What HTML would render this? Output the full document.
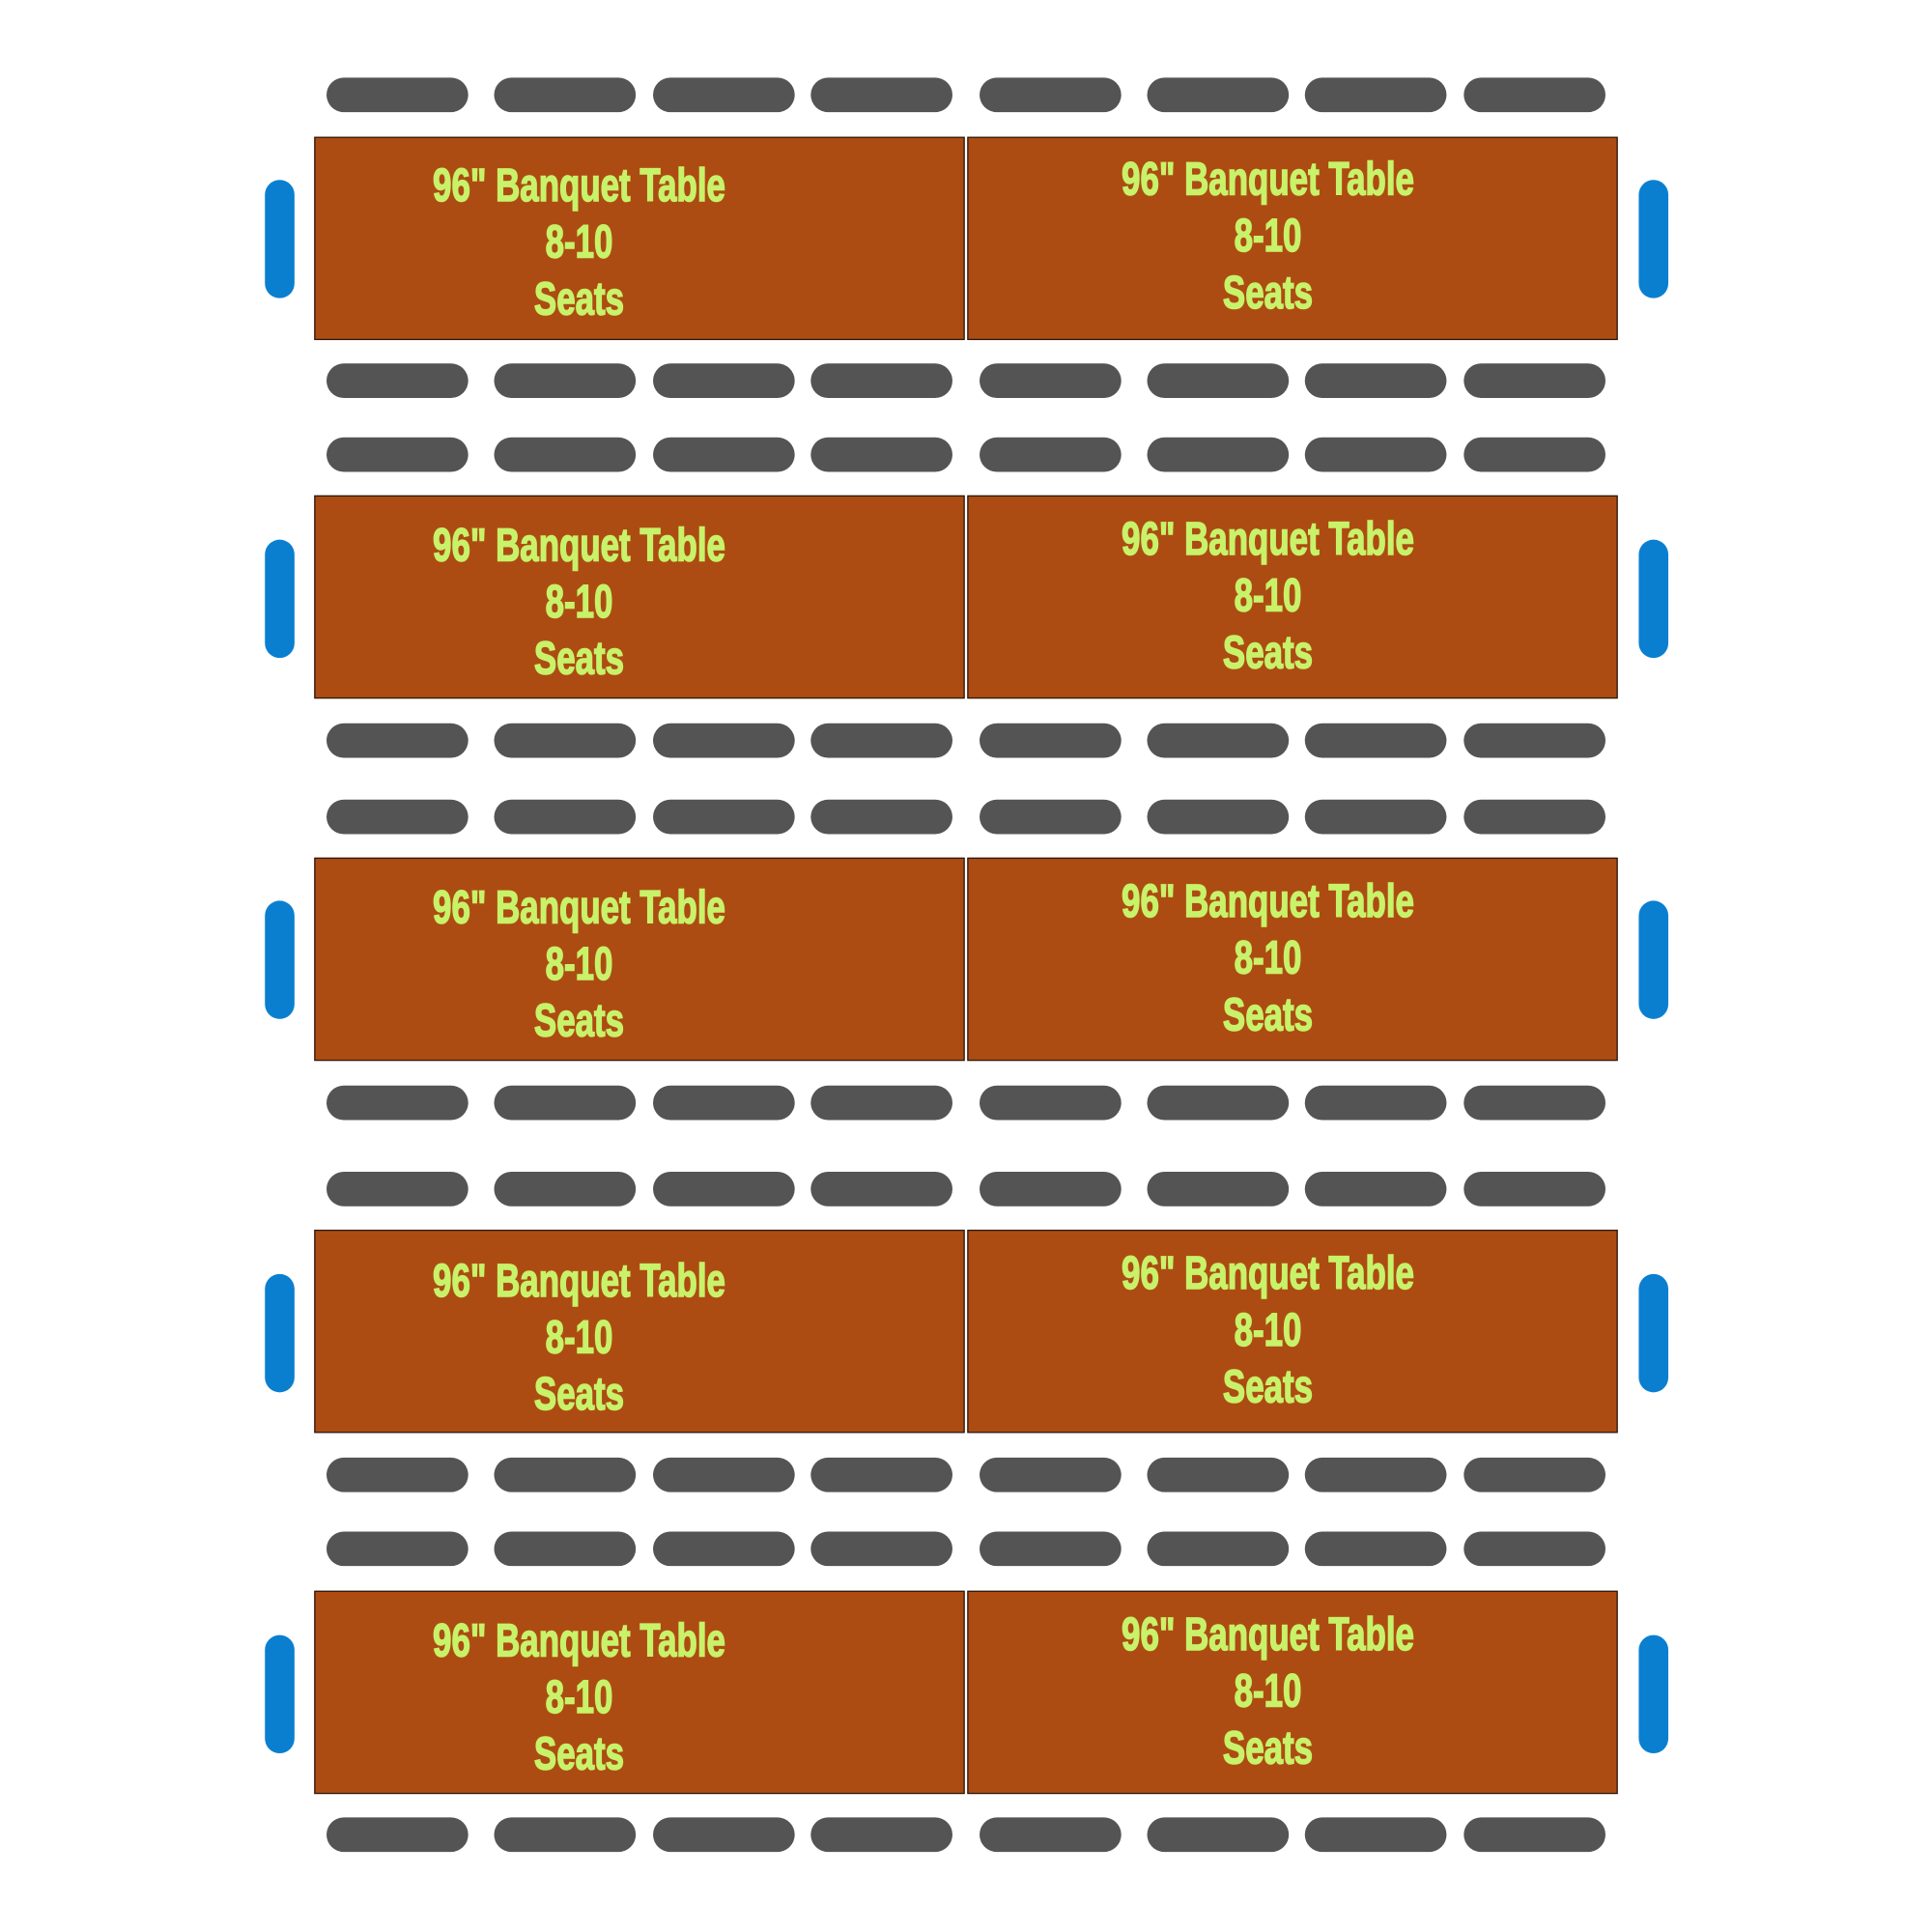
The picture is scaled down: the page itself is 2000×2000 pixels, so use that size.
<!DOCTYPE html>
<html><head><meta charset="utf-8"><style>
html,body{margin:0;padding:0;background:#fff;width:2000px;height:2000px;overflow:hidden}
#w{position:absolute;left:0;top:0;width:1568px;height:1568px;transform:scale(1.27551);transform-origin:0 0}
.t{position:absolute;width:528px;height:165px;background:#ad4c12;border:1.5px solid #2a1a10;box-sizing:border-box}
.c{position:absolute;width:115px;height:28px;border-radius:14px;background:#545454}
.b{position:absolute;width:24px;height:96px;border-radius:12px;background:#0a7fd0}
.x{position:absolute;width:400px;text-align:center;font:bold 38px/46px "Liberation Sans",sans-serif;color:#c8f26a;-webkit-text-stroke:1.2px #c8f26a;transform:scaleX(0.72);transform-origin:50% 0}
</style></head><body><div id="w">
<div class="t" style="left:255px;top:111px"></div><div class="t" style="left:785px;top:111px"></div>
<div class="b" style="left:215px;top:146px"></div><div class="b" style="left:1330px;top:146px"></div>
<div class="x" style="left:270px;top:128px">96" Banquet Table<br>8-10<br>Seats</div>
<div class="x" style="left:829px;top:123px">96" Banquet Table<br>8-10<br>Seats</div>
<div class="t" style="left:255px;top:402px"></div><div class="t" style="left:785px;top:402px"></div>
<div class="b" style="left:215px;top:438px"></div><div class="b" style="left:1330px;top:438px"></div>
<div class="x" style="left:270px;top:420px">96" Banquet Table<br>8-10<br>Seats</div>
<div class="x" style="left:829px;top:415px">96" Banquet Table<br>8-10<br>Seats</div>
<div class="t" style="left:255px;top:696px"></div><div class="t" style="left:785px;top:696px"></div>
<div class="b" style="left:215px;top:731px"></div><div class="b" style="left:1330px;top:731px"></div>
<div class="x" style="left:270px;top:714px">96" Banquet Table<br>8-10<br>Seats</div>
<div class="x" style="left:829px;top:709px">96" Banquet Table<br>8-10<br>Seats</div>
<div class="t" style="left:255px;top:998px"></div><div class="t" style="left:785px;top:998px"></div>
<div class="b" style="left:215px;top:1034px"></div><div class="b" style="left:1330px;top:1034px"></div>
<div class="x" style="left:270px;top:1017px">96" Banquet Table<br>8-10<br>Seats</div>
<div class="x" style="left:829px;top:1011px">96" Banquet Table<br>8-10<br>Seats</div>
<div class="t" style="left:255px;top:1291px"></div><div class="t" style="left:785px;top:1291px"></div>
<div class="b" style="left:215px;top:1327px"></div><div class="b" style="left:1330px;top:1327px"></div>
<div class="x" style="left:270px;top:1309px">96" Banquet Table<br>8-10<br>Seats</div>
<div class="x" style="left:829px;top:1304px">96" Banquet Table<br>8-10<br>Seats</div>
<div style="position:absolute;left:0;top:63px"><div class="c" style="left:265px"></div><div class="c" style="left:401px"></div><div class="c" style="left:530px"></div><div class="c" style="left:658px"></div><div class="c" style="left:795px"></div><div class="c" style="left:931px"></div><div class="c" style="left:1059px"></div><div class="c" style="left:1188px"></div></div>
<div style="position:absolute;left:0;top:295px"><div class="c" style="left:265px"></div><div class="c" style="left:401px"></div><div class="c" style="left:530px"></div><div class="c" style="left:658px"></div><div class="c" style="left:795px"></div><div class="c" style="left:931px"></div><div class="c" style="left:1059px"></div><div class="c" style="left:1188px"></div></div>
<div style="position:absolute;left:0;top:355px"><div class="c" style="left:265px"></div><div class="c" style="left:401px"></div><div class="c" style="left:530px"></div><div class="c" style="left:658px"></div><div class="c" style="left:795px"></div><div class="c" style="left:931px"></div><div class="c" style="left:1059px"></div><div class="c" style="left:1188px"></div></div>
<div style="position:absolute;left:0;top:587px"><div class="c" style="left:265px"></div><div class="c" style="left:401px"></div><div class="c" style="left:530px"></div><div class="c" style="left:658px"></div><div class="c" style="left:795px"></div><div class="c" style="left:931px"></div><div class="c" style="left:1059px"></div><div class="c" style="left:1188px"></div></div>
<div style="position:absolute;left:0;top:649px"><div class="c" style="left:265px"></div><div class="c" style="left:401px"></div><div class="c" style="left:530px"></div><div class="c" style="left:658px"></div><div class="c" style="left:795px"></div><div class="c" style="left:931px"></div><div class="c" style="left:1059px"></div><div class="c" style="left:1188px"></div></div>
<div style="position:absolute;left:0;top:881px"><div class="c" style="left:265px"></div><div class="c" style="left:401px"></div><div class="c" style="left:530px"></div><div class="c" style="left:658px"></div><div class="c" style="left:795px"></div><div class="c" style="left:931px"></div><div class="c" style="left:1059px"></div><div class="c" style="left:1188px"></div></div>
<div style="position:absolute;left:0;top:951px"><div class="c" style="left:265px"></div><div class="c" style="left:401px"></div><div class="c" style="left:530px"></div><div class="c" style="left:658px"></div><div class="c" style="left:795px"></div><div class="c" style="left:931px"></div><div class="c" style="left:1059px"></div><div class="c" style="left:1188px"></div></div>
<div style="position:absolute;left:0;top:1183px"><div class="c" style="left:265px"></div><div class="c" style="left:401px"></div><div class="c" style="left:530px"></div><div class="c" style="left:658px"></div><div class="c" style="left:795px"></div><div class="c" style="left:931px"></div><div class="c" style="left:1059px"></div><div class="c" style="left:1188px"></div></div>
<div style="position:absolute;left:0;top:1243px"><div class="c" style="left:265px"></div><div class="c" style="left:401px"></div><div class="c" style="left:530px"></div><div class="c" style="left:658px"></div><div class="c" style="left:795px"></div><div class="c" style="left:931px"></div><div class="c" style="left:1059px"></div><div class="c" style="left:1188px"></div></div>
<div style="position:absolute;left:0;top:1475px"><div class="c" style="left:265px"></div><div class="c" style="left:401px"></div><div class="c" style="left:530px"></div><div class="c" style="left:658px"></div><div class="c" style="left:795px"></div><div class="c" style="left:931px"></div><div class="c" style="left:1059px"></div><div class="c" style="left:1188px"></div></div>
</div></body></html>
